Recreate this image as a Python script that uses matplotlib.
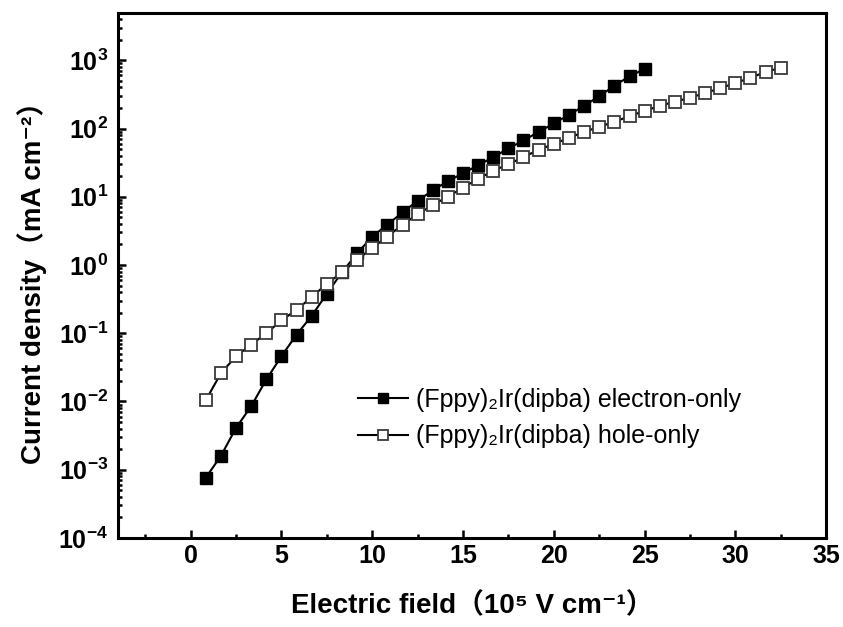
import matplotlib
matplotlib.use("Agg")
import matplotlib.pyplot as plt
from matplotlib.ticker import LogLocator, MultipleLocator, NullFormatter

plt.rcParams["font.family"] = ["Liberation Sans", "Noto Sans CJK SC", "DejaVu Sans"]
plt.rcParams["mathtext.fontset"] = "custom"
plt.rcParams["mathtext.rm"] = "Liberation Sans:bold"
plt.rcParams["mathtext.default"] = "regular"

# electric field (10^5 V/cm)
field_electron = [0.83, 1.67, 2.50, 3.33, 4.17, 5.00, 5.83, 6.67, 7.50, 8.33,
                  9.17, 10.00, 10.83, 11.67, 12.50, 13.33, 14.17, 15.00, 15.83, 16.67,
                  17.50, 18.33, 19.17, 20.00, 20.83, 21.67, 22.50, 23.33, 24.17, 25.00]
current_electron = [7.6e-4, 1.6e-3, 4.1e-3, 8.5e-3, 0.021, 0.046, 0.095, 0.18, 0.38, 0.78,
                    1.48, 2.6, 3.9, 5.9, 8.7, 12.4, 17, 22, 29, 38,
                    51, 67, 89, 119, 158, 215, 297, 422, 584, 744]

field_hole = [0.83, 1.67, 2.50, 3.33, 4.17, 5.00, 5.83, 6.67, 7.50, 8.33,
              9.17, 10.00, 10.83, 11.67, 12.50, 13.33, 14.17, 15.00, 15.83, 16.67,
              17.50, 18.33, 19.17, 20.00, 20.83, 21.67, 22.50, 23.33, 24.17, 25.00,
              25.83, 26.67, 27.50, 28.33, 29.17, 30.00, 30.83, 31.67, 32.50]
current_hole = [0.0104, 0.026, 0.046, 0.068, 0.10, 0.154, 0.22, 0.34, 0.53, 0.78,
                1.19, 1.78, 2.6, 3.9, 5.5, 7.6, 10, 13.6, 18.3, 24,
                30, 38, 49, 59, 73, 89, 106, 125, 152, 181,
                215, 247, 282, 331, 390, 464, 553, 677, 774]

labels = ["(Fppy)₂Ir(dipba) electron-only", "(Fppy)₂Ir(dipba) hole-only"]

fig = plt.figure(figsize=(8.43, 6.27), dpi=100)
ax = fig.add_axes([0.140, 0.142, 0.840, 0.837])

ax.plot(field_electron, current_electron, color="black", lw=1.5, marker="s",
        ms=9, mfc="black", mec="black", label=labels[0])
ax.plot(field_hole, current_hole, color="black", lw=1.5, marker="s",
        ms=9, mfc="white", mec="#3a3a3a", mew=1.3, label=labels[1])

ax.set_yscale("log")
ax.set_xlim(-4, 35)
ax.set_ylim(1e-4, 4900)
ax.xaxis.set_major_locator(MultipleLocator(5))
ax.xaxis.set_minor_locator(MultipleLocator(2.5))
ax.yaxis.set_major_locator(LogLocator(base=10, numticks=20))
ax.yaxis.set_minor_locator(LogLocator(base=10, subs=range(2, 10), numticks=20))
ax.yaxis.set_minor_formatter(NullFormatter())

for side in ax.spines.values():
    side.set_linewidth(2.2)
ax.tick_params(which="both", direction="in", top=False, right=False, width=1.8)
ax.tick_params(which="major", length=6, labelsize=18, pad=7)
ax.tick_params(axis="x", which="major", pad=4)
ax.tick_params(which="minor", length=3)
for lab in ax.get_xticklabels() + ax.get_yticklabels():
    lab.set_fontweight("bold")

ax.set_xlabel("Electric field（10⁵ V cm⁻¹）", fontsize=20, fontweight="bold", labelpad=18)
ax.set_ylabel("Current density（mA cm⁻²）", fontsize=20, fontweight="bold", labelpad=8)

ax.legend(loc="upper left", bbox_to_anchor=(0.325, 0.305), frameon=False,
          fontsize=18, markerscale=0.75, handlelength=2.0, handletextpad=0.3,
          borderaxespad=0, labelspacing=0.5)

fig.savefig("out.png", dpi=100)
